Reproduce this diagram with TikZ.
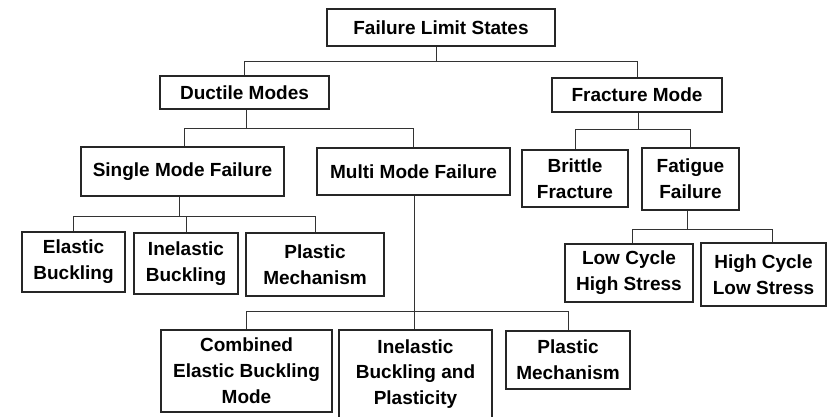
\documentclass[tikz,border=0pt]{standalone}
\usepackage{fontspec}
\setmainfont{Liberation Sans}
\begin{document}
\begin{tikzpicture}[x=1pt,y=-1pt,
  box/.style={draw=black!85, line width=1.1pt, rectangle, inner sep=0pt,
    align=center, font=\bfseries\fontsize{19}{25.8}\selectfont, text=black},
  wire/.style={draw=black!80, line width=1pt}]
\clip (0,0) rectangle (830,416);
\fill[white] (0,0) rectangle (830,416);

% level 0
\node[box, minimum width=228pt, minimum height=37pt] (top) at (441,27.5) {Failure Limit States};
% level 1
\node[box, minimum width=169pt, minimum height=33pt] (duct) at (244.5,92.5) {Ductile Modes};
\node[box, minimum width=170pt, minimum height=34pt] (frac) at (637,95) {Fracture Mode};
% level 2
\node[box, minimum width=203pt, minimum height=49pt] (single) at (182.5,171.5) {Single Mode Failure};
\node[box, minimum width=193pt, minimum height=47pt] (multi) at (413.5,171.5) {Multi Mode Failure};
\node[box, minimum width=106pt, minimum height=57pt] (brittle) at (575,178.5) {Brittle\\Fracture};
\node[box, minimum width=97pt, minimum height=62pt] (fatigue) at (690.5,179) {Fatigue\\Failure};
% level 3
\node[box, minimum width=103pt, minimum height=60pt] (elastic) at (73.5,262) {Elastic\\Buckling};
\node[box, minimum width=104pt, minimum height=61pt] (inelastic) at (186,263.5) {Inelastic\\Buckling};
\node[box, minimum width=138pt, minimum height=63pt] (plastic) at (315,264.5) {Plastic\\Mechanism};
\node[box, minimum width=128pt, minimum height=58pt] (lowcyc) at (629,273) {Low Cycle\\High Stress};
\node[box, minimum width=125pt, minimum height=63pt] (highcyc) at (763.5,274.5) {High Cycle\\Low Stress};
% level 4
\node[box, minimum width=171pt, minimum height=82pt] (combined) at (246.5,371) {Combined\\Elastic Buckling\\Mode};
\node[box, minimum width=153pt, minimum height=88pt] (inelplast) at (415.5,374) {Inelastic\\Buckling and\\Plasticity};
\node[box, minimum width=124pt, minimum height=58pt] (plastic2) at (568,360) {Plastic\\Mechanism};

% bus levels
\coordinate (b0) at (0,61);
\coordinate (b1) at (0,128);
\coordinate (b2) at (0,129);
\coordinate (b3) at (0,216);
\coordinate (b4) at (0,229);
\coordinate (b5) at (0,311);

% attachment points that sit off the box centres
\coordinate (topdrop) at ([xshift=-5pt]top.south);
\coordinate (ductdrop) at ([xshift=1.5pt]duct.south);
\coordinate (singleup) at ([xshift=1.5pt]single.north);
\coordinate (fracdrop) at ([xshift=1pt]frac.south);
\coordinate (singledrop) at ([xshift=-3.5pt]single.south);
\coordinate (fatdrop) at ([xshift=-3.5pt]fatigue.south);
\coordinate (lowup) at ([xshift=3pt]lowcyc.north);
\coordinate (highup) at ([xshift=8.5pt]highcyc.north);
\coordinate (multidrop) at ([xshift=0.5pt]multi.south);

% connectors
\draw[wire] (topdrop) -- (topdrop |- b0);
\draw[wire] (duct.north) |- (b0 -| frac.north) -- (frac.north);

\draw[wire] (ductdrop) -- (ductdrop |- b1);
\draw[wire] (singleup) |- (b1 -| multi.north) -- (multi.north);

\draw[wire] (fracdrop) -- (fracdrop |- b2);
\draw[wire] (brittle.north) |- (b2 -| fatigue.north) -- (fatigue.north);

\draw[wire] (singledrop) -- (singledrop |- b3);
\draw[wire] (elastic.north) |- (b3 -| plastic.north) -- (plastic.north);
\draw[wire] (inelastic.north) -- (inelastic.north |- b3);

\draw[wire] (fatdrop) -- (fatdrop |- b4);
\draw[wire] (lowup) |- (b4 -| highup) -- (highup);

\draw[wire] (multidrop) -- (multidrop |- inelplast.north);
\draw[wire] (combined.north) |- (b5 -| plastic2.north) -- (plastic2.north);
\end{tikzpicture}
\end{document}
